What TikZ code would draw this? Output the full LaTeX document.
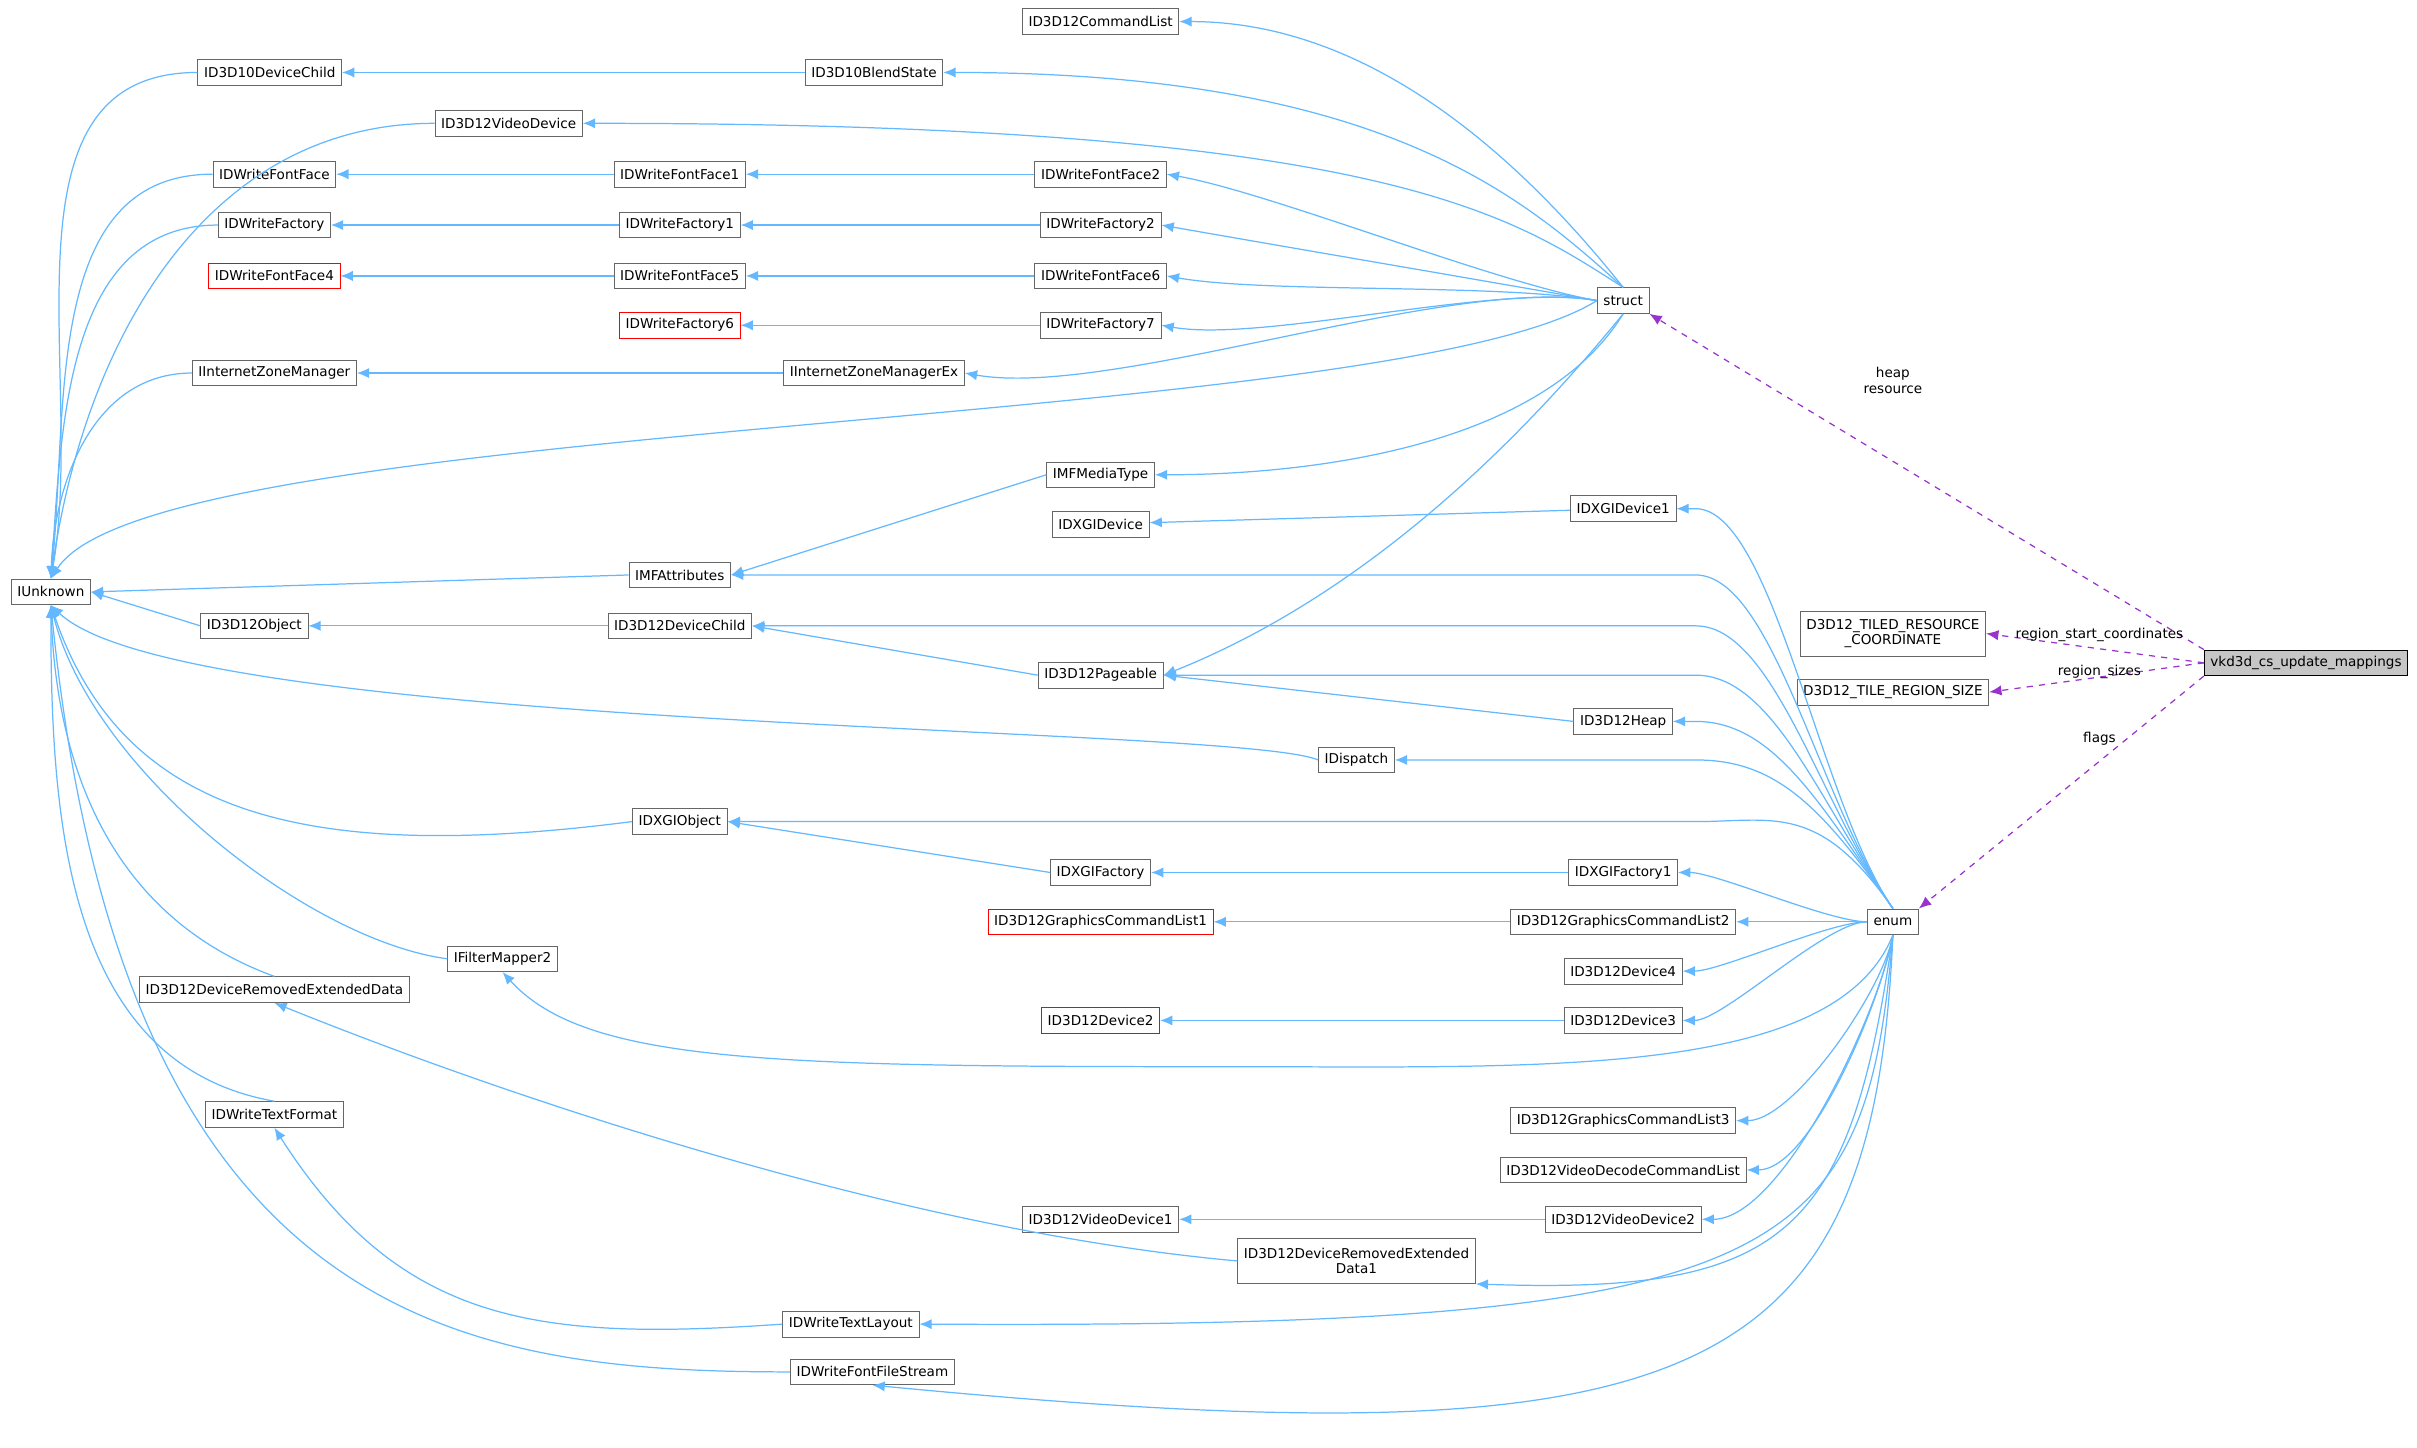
\documentclass[tikz,border=0pt]{standalone}
\usepackage{fontspec}
\setmainfont{DejaVu Sans}
\usetikzlibrary{arrows.meta}
\definecolor{eb}{HTML}{63B8FF}
\definecolor{ep}{HTML}{9A32CD}
\definecolor{bx}{HTML}{666666}
\begin{document}
\begin{tikzpicture}[x=0.75pt,y=-0.75pt,
 b/.style={draw=bx,fill=white,font=\fontsize{6.6}{7.6}\selectfont,inner xsep=3pt,inner ysep=0pt,minimum height=12.5pt,align=center},
 r/.style={b,draw=red},
 g/.style={b,fill=gray!45,draw=black},
 e/.style={draw=eb,line width=0.6pt,-{Latex[length=6pt,width=5pt]}},
 p/.style={draw=ep,line width=0.6pt,dashed,-{Latex[length=6pt,width=5pt]}},
 lb/.style={font=\fontsize{6.6}{7.6}\selectfont,align=center}]
\useasboundingbox (0,0) rectangle (1568,939);
\node[b] (IU) at (33,384) {IUnknown};
\node[b] (DC10) at (175,47) {ID3D10DeviceChild};
\node[b] (VD) at (330,80) {ID3D12VideoDevice};
\node[b] (FF) at (178,113) {IDWriteFontFace};
\node[b] (WF) at (178,146) {IDWriteFactory};
\node[r] (FF4) at (178,179) {IDWriteFontFace4};
\node[b] (IZM) at (178,242) {IInternetZoneManager};
\node[b] (OBJ) at (165,406) {ID3D12Object};
\node[b] (MFA) at (441,373) {IMFAttributes};
\node[b] (DCH) at (441,406) {ID3D12DeviceChild};
\node[b] (XO) at (441,533) {IDXGIObject};
\node[b] (FM2) at (326,622) {IFilterMapper2};
\node[b] (DRED) at (178,642) {ID3D12DeviceRemovedExtendedData};
\node[b] (TF) at (178,723) {IDWriteTextFormat};
\node[b] (TL) at (552,859) {IDWriteTextLayout};
\node[b] (FFS) at (566,890) {IDWriteFontFileStream};
\node[b] (CL) at (714,14) {ID3D12CommandList};
\node[b] (BS) at (567,47) {ID3D10BlendState};
\node[b] (FF1) at (441,113) {IDWriteFontFace1};
\node[b] (WF1) at (441,146) {IDWriteFactory1};
\node[b] (FF5) at (441,179) {IDWriteFontFace5};
\node[r] (WF6) at (441,211) {IDWriteFactory6};
\node[b] (IZX) at (567,242) {IInternetZoneManagerEx};
\node[b] (FF2) at (714,113) {IDWriteFontFace2};
\node[b] (WF2) at (714,146) {IDWriteFactory2};
\node[b] (FF6) at (714,179) {IDWriteFontFace6};
\node[b] (WF7) at (714,211) {IDWriteFactory7};
\node[b] (MT) at (714,308) {IMFMediaType};
\node[b] (XD) at (714,340) {IDXGIDevice};
\node[b] (PG) at (714,438) {ID3D12Pageable};
\node[b] (DSP) at (880,493) {IDispatch};
\node[b] (XF) at (714,566) {IDXGIFactory};
\node[r] (GCL1) at (714,598) {ID3D12GraphicsCommandList1};
\node[r] (DV2) at (714,662) {ID3D12Device2};
\node[b] (VD1) at (714,791) {ID3D12VideoDevice1};
\node[b,minimum height=22pt] (DRED1) at (880,818) {ID3D12DeviceRemovedExtended\\Data1};
\node[b] (ST) at (1053,195) {struct};
\node[b] (XD1) at (1053,330) {IDXGIDevice1};
\node[b] (HP) at (1053,468) {ID3D12Heap};
\node[b] (XF1) at (1053,566) {IDXGIFactory1};
\node[b] (GCL2) at (1053,598) {ID3D12GraphicsCommandList2};
\node[b] (DV4) at (1053,630) {ID3D12Device4};
\node[b] (DV3) at (1053,662) {ID3D12Device3};
\node[b] (GCL3) at (1053,727) {ID3D12GraphicsCommandList3};
\node[b] (VDCL) at (1053,759) {ID3D12VideoDecodeCommandList};
\node[b] (VD2) at (1053,791) {ID3D12VideoDevice2};
\node[b] (EN) at (1228,598) {enum};
\node[b,minimum height=22pt] (TRC) at (1228,411) {D3D12\_TILED\_RESOURCE\\\_COORDINATE};
\node[b] (TRS) at (1228,449) {D3D12\_TILE\_REGION\_SIZE};
\node[g] (VK) at (1496,430) {vkd3d\_cs\_update\_mappings};
% to IUnknown
\draw[e] (DC10.west) to[out=180,in=80] (IU.north);
\draw[e] (VD.west) to[out=180,in=82] (IU.north);
\draw[e] (FF.west) to[out=180,in=84] (IU.north);
\draw[e] (WF.west) to[out=180,in=86] (IU.north);
\draw[e] (IZM.west) to[out=180,in=88] (IU.north);
\draw[e] (ST.west) .. controls (900,280) and (100,270) .. (IU.north);
\draw[e] (MFA.west) -- (IU.east);
\draw[e] (OBJ.west) -- (IU.east);
\draw[e] (DSP.west) .. controls (800,470) and (120,475) .. (IU.south);
\draw[e] (XO.west) .. controls (200,560) and (80,530) .. (IU.south);
\draw[e] (FM2.west) .. controls (200,610) and (60,500) .. (IU.south);
\draw[e] (DRED.north) to[out=160,in=-88] (IU.south);
\draw[e] (TF.north) to[out=170,in=-90] (IU.south);
\draw[e] (FFS.west) .. controls (300,890) and (80,860) .. (IU.south);
% chains
\draw[e] (BS) -- (DC10);
\draw[e] (FF1) -- (FF);
\draw[e] (FF2) -- (FF1);
\draw[e] (WF1) -- (WF);
\draw[e] (WF2) -- (WF1);
\draw[e] (FF5) -- (FF4);
\draw[e] (FF6) -- (FF5);
\draw[e] (WF7) -- (WF6);
\draw[e] (IZX) -- (IZM);
\draw[e] (MT.west) -- (MFA.east);
\draw[e] (XD1) -- (XD);
\draw[e] (DCH) -- (OBJ);
\draw[e] (PG.west) -- (DCH.east);
\draw[e] (HP.west) -- (PG.east);
\draw[e] (XF.west) -- (XO.east);
\draw[e] (XF1) -- (XF);
\draw[e] (GCL2) -- (GCL1);
\draw[e] (DV3) -- (DV2);
\draw[e] (VD2) -- (VD1);
\draw[e] (DRED1.west) .. controls (600,800) and (350,720) .. (DRED.south);
\draw[e] (TL.west) .. controls (350,870) and (260,860) .. (TF.south);
% struct
\draw[e] (ST.north) .. controls (1000,120) and (900,14) .. (CL.east);
\draw[e] (ST.north) .. controls (990,130) and (900,47) .. (BS.east);
\draw[e] (ST.north) .. controls (980,140) and (900,80) .. (VD.east);
\foreach \n in {FF2,WF2,FF6,WF7,IZX}{\draw[e] (ST.west) to[out=170,in=-10,looseness=0.6] (\n.east);}
\draw[e] (ST.south) .. controls (1000,290) and (850,308) .. (MT.east);
\draw[e] (ST.south) .. controls (950,330) and (850,400) .. (PG.east);
% enum upward
\foreach \n/\y in {XD1/330,MFA/373,DCH/406,PG/438,HP/468,DSP/493,XO/533}{
 \draw[e] (EN.north) .. controls (1180,520) and (1150,\y) .. (1100,\y) to[out=180,in=0,looseness=0.5] (\n.east);}
\foreach \n in {XF1,GCL2,DV4,DV3}{\draw[e] (EN.west) to[out=180,in=0,looseness=0.5] (\n.east);}
% enum downward
\draw[e] (EN.south) .. controls (1190,700) and (1000,692) .. (800,692) .. controls (500,692) and (380,690) .. (FM2.south);
\foreach \n in {GCL3,VDCL,VD2}{\draw[e] (EN.south) to[out=-100,in=0,looseness=0.6] (\n.east);}
\draw[e] (EN.south) .. controls (1200,800) and (1160,840) .. (DRED1.south east);
\draw[e] (EN.south) .. controls (1210,820) and (1160,862) .. (TL.east);
\draw[e] (EN.south) .. controls (1215,900) and (1100,950) .. (FFS.south);
% purple
\draw[p] (VK.north west) -- (ST.south east);
\node[lb] (l1) at (1228,247) {heap\\resource};
\draw[p] (VK.west) -- (TRC.east);
\node[lb] (l2) at (1362,412) {region\_start\_coordinates};
\draw[p] (VK.west) -- (TRS.east);
\node[lb] (l3) at (1362,436) {region\_sizes};
\draw[p] (VK.south west) -- (EN.north east);
\node[lb] (l4) at (1362,479) {flags};
\end{tikzpicture}
\end{document}
